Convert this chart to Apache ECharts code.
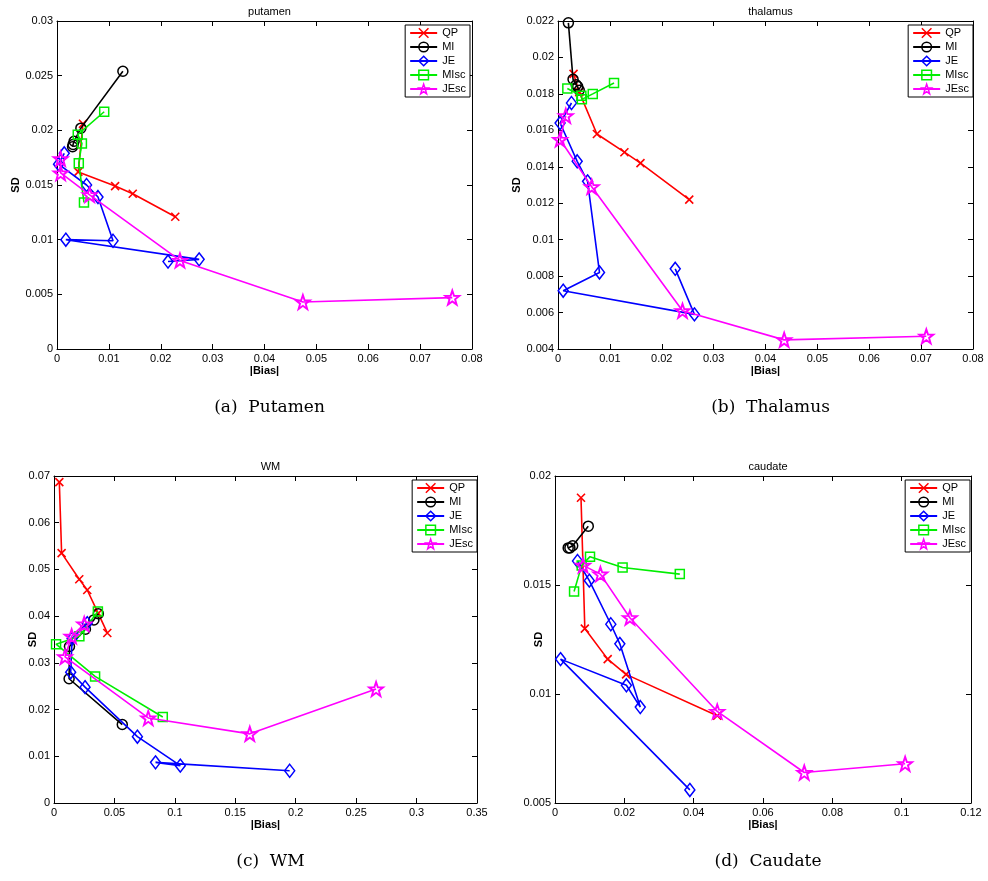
<!DOCTYPE html>
<html><head><meta charset="utf-8">
<script src="https://cdn.jsdelivr.net/npm/echarts@6/dist/echarts.min.js"></script>
<style>html,body{margin:0;padding:0;background:#fff}#c{width:988px;height:881px}</style>
</head><body><div id="c"></div>
<script>
// ---- labels ----
const seriesNames = ['QP', 'MI', 'JE', 'MIsc', 'JEsc'];
const panelTitles = ['putamen', 'thalamus', 'WM', 'caudate'];
const panelCaptions = ['(a)  Putamen', '(b)  Thalamus', '(c)  WM', '(d)  Caudate'];
const xAxisName = '|Bias|';
const yAxisName = 'SD';

// ---- axis ranges ----
const xMin = [0, 0, 0, 0];
const xMax = [0.08, 0.08, 0.35, 0.12];
const xStep = [0.01, 0.01, 0.05, 0.02];
const yMin = [0, 0.004, 0, 0.005];
const yMax = [0.03, 0.022, 0.07, 0.02];
const yStep = [0.005, 0.002, 0.01, 0.005];

// ---- data: [|Bias|, SD] ----
// (a) putamen
const putamenQP   = [[0.0050,0.0206],[0.0041,0.0162],[0.0112,0.0149],[0.0146,0.0142],[0.0228,0.0121]];
const putamenMI   = [[0.0030,0.0185],[0.0031,0.0187],[0.0033,0.0190],[0.0046,0.0202],[0.0127,0.0254]];
const putamenJE   = [[0.0014,0.0179],[0.0003,0.0169],[0.0057,0.0150],[0.0079,0.0139],[0.0108,0.0099],[0.0017,0.0100],[0.0274,0.0082],[0.0214,0.0080]];
const putamenMIsc = [[0.0091,0.0217],[0.0040,0.0196],[0.0048,0.0188],[0.0042,0.0170],[0.0052,0.0134]];
const putamenJEsc = [[0.0007,0.0174],[0.0007,0.0161],[0.0063,0.0141],[0.0237,0.0081],[0.0474,0.0043],[0.0762,0.0047]];
// (b) thalamus
const thalamusQP   = [[0.0030,0.0191],[0.0041,0.0181],[0.0075,0.0158],[0.0128,0.0148],[0.0159,0.0142],[0.0253,0.0122]];
const thalamusMI   = [[0.0020,0.0219],[0.0029,0.0188],[0.0035,0.0185],[0.0038,0.0184],[0.0041,0.0182]];
const thalamusJE   = [[0.0026,0.0175],[0.0004,0.0164],[0.0037,0.0143],[0.0057,0.0132],[0.0080,0.0082],[0.0010,0.0072],[0.0263,0.0059],[0.0226,0.0084]];
const thalamusMIsc = [[0.0018,0.0183],[0.0045,0.0179],[0.0046,0.0177],[0.0067,0.0180],[0.0108,0.0186]];
const thalamusJEsc = [[0.0015,0.0168],[0.0004,0.0155],[0.0065,0.0129],[0.0240,0.0061],[0.0436,0.0045],[0.0710,0.0047]];
// (c) WM
const wmQP   = [[0.0044,0.0687],[0.0063,0.0535],[0.0209,0.0479],[0.0275,0.0456],[0.0366,0.0406],[0.0441,0.0364]];
const wmMI   = [[0.0367,0.0405],[0.0330,0.0392],[0.0260,0.0372],[0.0128,0.0335],[0.0125,0.0266],[0.0565,0.0168]];
const wmJE   = [[0.0275,0.0385],[0.0150,0.0352],[0.0138,0.0280],[0.0257,0.0248],[0.0690,0.0142],[0.1045,0.0080],[0.0840,0.0087],[0.1950,0.0069]];
const wmMIsc = [[0.0363,0.0410],[0.0210,0.0357],[0.0017,0.0340],[0.0340,0.0271],[0.0900,0.0184]];
const wmJEsc = [[0.0250,0.0383],[0.0146,0.0357],[0.0091,0.0313],[0.0780,0.0182],[0.1620,0.0148],[0.2665,0.0244]];
// (d) caudate
const caudateQP   = [[0.0075,0.0190],[0.0086,0.0130],[0.0152,0.0116],[0.0205,0.0109],[0.0468,0.0090]];
const caudateMI   = [[0.0038,0.0167],[0.0043,0.0167],[0.0051,0.0168],[0.0096,0.0177]];
const caudateJE   = [[0.0065,0.0161],[0.0099,0.0152],[0.0161,0.0132],[0.0187,0.0123],[0.0246,0.0094],[0.0206,0.0104],[0.0016,0.0116],[0.0389,0.0056]];
const caudateMIsc = [[0.0055,0.0147],[0.0077,0.0159],[0.0101,0.0163],[0.0195,0.0158],[0.0360,0.0155]];
const caudateJEsc = [[0.0081,0.0159],[0.0131,0.0155],[0.0216,0.0135],[0.0468,0.0092],[0.0719,0.0064],[0.1010,0.0068]];

const panelData = [
  [putamenQP, putamenMI, putamenJE, putamenMIsc, putamenJEsc],
  [thalamusQP, thalamusMI, thalamusJE, thalamusMIsc, thalamusJEsc],
  [wmQP, wmMI, wmJE, wmMIsc, wmJEsc],
  [caudateQP, caudateMI, caudateJE, caudateMIsc, caudateJEsc]
];

// ---- layout & style ----
const grids = [
  {left: 57, top: 21, width: 415, height: 328},
  {left: 558, top: 21, width: 415, height: 328},
  {left: 54, top: 476, width: 423, height: 327},
  {left: 555, top: 476, width: 416, height: 327}
];
const legendPos = [
  {right: 518, top: 25}, {right: 15, top: 25}, {right: 511, top: 480}, {right: 18, top: 480}
];
const yNameGap = [36, 36, 16, 11];
const yNameMove = [true, false, false, false];
const colors = ['#ff0000', '#000000', '#0000ff', '#00ee00', '#ff00ff'];

function starPath() {
  let d = '';
  for (let i = 0; i < 10; i++) {
    const a = (-90 + i * 36) * Math.PI / 180;
    const r = (i % 2) ? 40 : 100;
    d += (i ? 'L' : 'M') + (100 + r * Math.cos(a)).toFixed(2) + ',' + (100 + r * Math.sin(a)).toFixed(2);
  }
  return 'path://' + d + 'Z';
}
const symbols = ['path://M0,0L10,10M0,10L10,0', 'circle', 'diamond', 'rect', starPath()];
const symbolSizes = [8, 10, [10, 13], 9, 14];
const symbolBorders = [1.6, 1.5, 1.5, 1.5, 1.9];

const fmt = v => String(parseFloat(v.toFixed(6)));
const font = 'Liberation Sans, Arial, Helvetica, sans-serif';

const xAxes = [], yAxes = [], series = [], titles = [], legends = [];
grids.forEach((g, i) => {
  const common = {type: 'value', gridIndex: i, splitLine: {show: false},
    axisLine: {onZero: false, lineStyle: {color: '#000', width: 1}},
    axisTick: {inside: true, length: 5, lineStyle: {color: '#000'}}};
  xAxes.push(Object.assign({}, common, {position: 'bottom', min: xMin[i], max: xMax[i], interval: xStep[i],
    axisLabel: {color: '#000', fontSize: 11, fontFamily: font, margin: 4, formatter: fmt},
    name: xAxisName, nameLocation: 'middle', nameGap: 16, nameMoveOverlap: false,
    nameTextStyle: {color: '#000', fontSize: 11, fontWeight: 'bold', fontFamily: font}}));
  xAxes.push(Object.assign({}, common, {position: 'top', min: xMin[i], max: xMax[i], interval: xStep[i],
    axisLabel: {show: false}}));
  yAxes.push(Object.assign({}, common, {position: 'left', min: yMin[i], max: yMax[i], interval: yStep[i],
    axisLabel: {color: '#000', fontSize: 11, fontFamily: font, margin: 4, formatter: fmt},
    name: yAxisName, nameLocation: 'middle', nameGap: yNameGap[i], nameMoveOverlap: yNameMove[i],
    nameTextStyle: {color: '#000', fontSize: 11, fontWeight: 'bold', fontFamily: font}}));
  yAxes.push(Object.assign({}, common, {position: 'right', min: yMin[i], max: yMax[i], interval: yStep[i],
    axisLabel: {show: false}}));
  panelData[i].forEach((d, k) => {
    series.push({
      type: 'line', name: seriesNames[k], data: d,
      xAxisIndex: 2 * i, yAxisIndex: 2 * i,
      symbol: symbols[k], symbolSize: symbolSizes[k], showAllSymbol: true,
      lineStyle: {color: colors[k], width: 1.6},
      itemStyle: {color: 'rgba(0,0,0,0)', borderColor: colors[k], borderWidth: symbolBorders[k]},
      emphasis: {disabled: true}, animation: false, z: 2 + k
    });
  });
  const cx = g.left + g.width / 2;
  titles.push({text: panelTitles[i], left: cx, top: g.top - 20, textAlign: 'center',
    textStyle: {fontSize: 11, fontWeight: 'normal', color: '#000', fontFamily: font}});
  titles.push({text: panelCaptions[i], left: cx, top: g.top + g.height + 45, textAlign: 'center',
    textStyle: {fontSize: 17, fontWeight: 'normal', color: '#000', fontFamily: 'DejaVu Serif, serif'}});
  legends.push(Object.assign({data: seriesNames, orient: 'vertical', itemWidth: 27, itemHeight: 12, itemGap: 2,
    padding: [2, 4, 2, 4], borderColor: '#000', borderWidth: 1, backgroundColor: '#fff',
    selectedMode: false, align: 'left',
    itemStyle: {borderWidth: 1.5},
    textStyle: {color: '#000', fontSize: 11, fontFamily: font, lineHeight: 12}}, legendPos[i]));
});

const chart = echarts.init(document.getElementById('c'), null, {renderer: 'canvas'});
chart.setOption({
  backgroundColor: '#fff', animation: false,
  title: titles, legend: legends, grid: grids,
  xAxis: xAxes, yAxis: yAxes, series: series
});
</script>
</body></html>
